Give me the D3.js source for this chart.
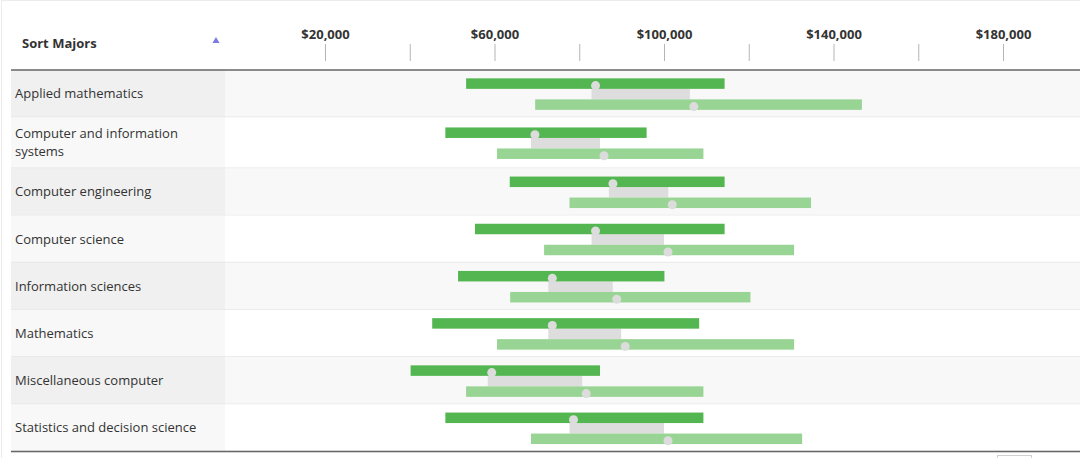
<!DOCTYPE html>
<html>
<head>
<meta charset="utf-8">
<script src="https://cdn.jsdelivr.net/npm/d3@7"></script>
<style>
  body { margin: 0; background: #fff; }
  svg text { font-family: "Open Sans", "Noto Sans", sans-serif; fill: #333; }
</style>
</head>
<body>
<div class="range-chart"></div>
<script>
// majors, one row each (two-line labels are split with "|")
const majors = [
    "Applied mathematics",
    "Computer and information|systems",
    "Computer engineering",
    "Computer science",
    "Information sciences",
    "Mathematics",
    "Miscellaneous computer",
    "Statistics and decision science"
]

// early career: 25th percentile, median, 75th percentile (dark bars)
const earlyLow    = [53300, 48400, 63600, 55400, 51400, 45300, 40200, 48400]
const earlyMedian = [82900, 68600, 87000, 82900, 72700, 72700, 58400, 77700]
const earlyHigh   = [114300, 95900, 114300, 114300, 100100, 108300, 84900, 109300]

// mid career: 25th percentile, median, 75th percentile (light bars)
const midLow    = [69600, 60600, 77700, 71700, 63700, 60600, 53300, 68600]
const midMedian = [106100, 84900, 101000, 100000, 87900, 89900, 80700, 100000]
const midHigh   = [146700, 109300, 134700, 130700, 120400, 130700, 109300, 132600]

const tickValues = [20000, 40000, 60000, 80000, 100000, 120000, 140000, 160000, 180000]
const labelledTicks = [20000, 60000, 100000, 140000, 180000]

const width = 1080
const height = 458
const tableLeft = 11
const labelWidth = 214
const headerHeight = 70
const barH = 10.5

const data = majors.map((m, i) => ({
    major: m,
    lines: m.split("|"),
    earlyLow: earlyLow[i], earlyMedian: earlyMedian[i], earlyHigh: earlyHigh[i],
    midLow: midLow[i], midMedian: midMedian[i], midHigh: midHigh[i]
}))

// row heights: taller when the label wraps
let rowTop = headerHeight
data.forEach(d => {
    d.h = d.lines.length > 1 ? 51 : 47.2
    d.top = rowTop
    rowTop += d.h
})
const tableBottom = rowTop

const svg = d3.select(".range-chart").append("svg")
    .attr("width", width)
    .attr("height", height)

const xScale = d3.scaleLinear()
    .domain([0, 200000])
    .range([240.25, 1087.75])

// outer frame
svg.append("rect")
    .attr("x", 1.5).attr("y", 0.5)
    .attr("width", width - 1).attr("height", height + 5)
    .attr("fill", "none")
    .attr("stroke", "#ececec")

// rows
const rows = svg.selectAll("g.row")
    .data(data)
    .join("g")
        .attr("class", "row")
        .attr("transform", d => `translate(0, ${d.top})`)

rows.append("rect")
    .attr("x", tableLeft + labelWidth)
    .attr("width", width - tableLeft - labelWidth)
    .attr("height", d => d.h)
    .attr("fill", (d, i) => i % 2 === 0 ? "#f8f8f8" : "#ffffff")

rows.append("rect")
    .attr("x", tableLeft)
    .attr("width", labelWidth)
    .attr("height", d => d.h)
    .attr("fill", (d, i) => i % 2 === 0 ? "#f0f0f0" : "#f8f8f8")

rows.append("line")
    .attr("x1", tableLeft).attr("x2", width)
    .attr("y1", d => d.h).attr("y2", d => d.h)
    .attr("stroke", "#e6e6e6")
    .attr("stroke-width", 1.5)

rows.append("text")
    .attr("x", 15)
    .attr("font-size", "13px")
    .selectAll("tspan")
    .data(d => d.lines.map((t, j) => ({t, j, n: d.lines.length, h: d.h})))
    .join("tspan")
        .attr("x", 15)
        .attr("y", l => l.h / 2 + (l.j - (l.n - 1) / 2) * 18)
        .attr("dy", "0.35em")
        .text(l => l.t)

// bars
const barTop = d => (d.h - 3 * barH) / 2 + 0.5

rows.append("rect")
    .attr("class", "connector")
    .attr("x", d => xScale(d.earlyMedian))
    .attr("y", d => barTop(d) + barH)
    .attr("width", d => xScale(d.midMedian) - xScale(d.earlyMedian))
    .attr("height", barH)
    .attr("fill", "#dddddd")

rows.append("rect")
    .attr("class", "early")
    .attr("x", d => xScale(d.earlyLow))
    .attr("y", d => barTop(d))
    .attr("width", d => xScale(d.earlyHigh) - xScale(d.earlyLow))
    .attr("height", barH)
    .attr("fill", "#54b650")

rows.append("rect")
    .attr("class", "mid")
    .attr("x", d => xScale(d.midLow))
    .attr("y", d => barTop(d) + 2 * barH)
    .attr("width", d => xScale(d.midHigh) - xScale(d.midLow))
    .attr("height", barH)
    .attr("fill", "#98d494")

rows.append("circle")
    .attr("cx", d => xScale(d.earlyMedian) + 4)
    .attr("cy", d => barTop(d) + barH / 2 + 2)
    .attr("r", 4.5)
    .attr("fill", "#dcdcdc")

rows.append("circle")
    .attr("cx", d => xScale(d.midMedian) + 4)
    .attr("cy", d => barTop(d) + 2.5 * barH + 2)
    .attr("r", 4.5)
    .attr("fill", "#dcdcdc")

// header
svg.append("text")
    .attr("x", 22)
    .attr("y", 43)
    .attr("dy", "0.35em")
    .attr("font-size", "13px")
    .attr("font-weight", "bold")
    .text("Sort Majors")

svg.append("path")
    .attr("d", d3.symbol(d3.symbolTriangle, 22)())
    .attr("transform", "translate(216, 41)")
    .attr("fill", "#7b7be0")

const xAxis = d3.axisTop(xScale)
    .tickValues(tickValues)
    .tickSize(17)
    .tickPadding(5)
    .tickFormat(d => labelledTicks.includes(d) ? d3.format("$,")(d) : "")

svg.append("g")
    .attr("class", "x-axis")
    .attr("transform", "translate(0, 61)")
    .call(xAxis)
    .call(g => g.select(".domain").remove())
    .call(g => g.selectAll(".tick line").attr("stroke", "#b5b5b5"))
    .call(g => g.selectAll(".tick text")
        .attr("font-family", "'Open Sans', sans-serif")
        .attr("font-size", "13px")
        .attr("font-weight", "bold")
        .attr("fill", "#333"))

// header and footer rules
svg.append("line")
    .attr("x1", tableLeft).attr("x2", width)
    .attr("y1", headerHeight).attr("y2", headerHeight)
    .attr("stroke", "#666").attr("stroke-width", 1.5)

svg.append("line")
    .attr("x1", tableLeft).attr("x2", width)
    .attr("y1", tableBottom).attr("y2", tableBottom)
    .attr("stroke", "#666").attr("stroke-width", 1.5)

// pager button peeking in at the bottom
svg.append("rect")
    .attr("x", 997.5).attr("y", 455.5)
    .attr("width", 34).attr("height", 10)
    .attr("fill", "#fff")
    .attr("stroke", "#d0d0d0")
</script>
</body>
</html>
